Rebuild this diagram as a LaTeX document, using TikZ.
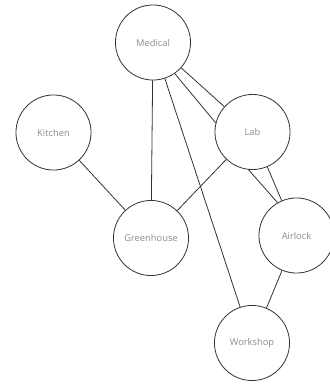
\documentclass[tikz,border=0pt]{standalone}
\usepackage{fontspec}
\setmainfont{Open Sans}
\begin{document}
\begin{tikzpicture}[x=0.75pt,y=-0.75pt,
  room/.style={circle,draw=black!80,line width=0.6pt,minimum size=56.3pt,inner sep=0pt,
    font=\fontsize{7}{8}\selectfont,text=black!45},
  link/.style={draw=black!80,line width=0.6pt}]
\useasboundingbox (0,0) rectangle (329,385);
\node[room] (med) at (153,42.5) {Medical};
\node[room] (kit) at (53.5,132.5) {Kitchen};
\node[room] (lab) at (252.5,132) {Lab};
\node[room] (gre) at (151,238) {Greenhouse};
\node[room] (air) at (296.5,235.5) {Airlock};
\node[room] (wor) at (252,343) {Workshop};
\draw[link] (med) -- (gre);
\draw[link] (med) -- (lab);
\draw[link] (med.-55) -- (lab.166);
\draw[link] (med) -- (wor);
\draw[link] (kit) -- (gre);
\draw[link] (lab) -- (gre);
\draw[link] (lab) -- (air);
\draw[link] (lab.-96) -- (air.120);
\draw[link] (air) -- (wor);
\end{tikzpicture}
\end{document}
